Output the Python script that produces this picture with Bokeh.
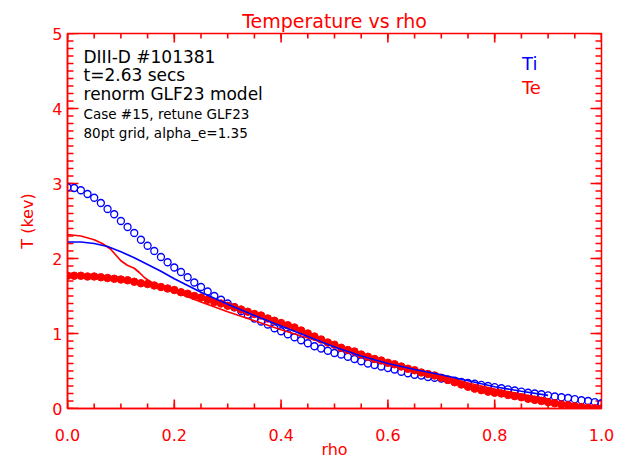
from bokeh.plotting import figure
from bokeh.models import FixedTicker, PrintfTickFormatter, Range1d, Label
from bokeh.embed import file_html
from bokeh.resources import INLINE

RED = "#ff0000"
BLUE = "#0000ff"
FONT = "DejaVu Sans"

# ---------------- data ----------------
# measured profiles on an 81-point rho grid
rho_grid = [i / 80 for i in range(81)]

ti_meas = [2.95, 2.94, 2.91, 2.86, 2.81, 2.74, 2.66, 2.59, 2.50, 2.42,
           2.34, 2.25, 2.17, 2.10, 2.02, 1.95, 1.88, 1.82, 1.75, 1.68,
           1.62, 1.56, 1.50, 1.45, 1.40, 1.35, 1.30, 1.25, 1.20, 1.16,
           1.12, 1.07, 1.03, 0.99, 0.95, 0.91, 0.87, 0.83, 0.80, 0.77,
           0.74, 0.72, 0.69, 0.66, 0.63, 0.60, 0.58, 0.56, 0.54, 0.52,
           0.49, 0.47, 0.45, 0.44, 0.42, 0.41, 0.40, 0.385, 0.37, 0.355,
           0.34, 0.33, 0.315, 0.30, 0.285, 0.27, 0.255, 0.24, 0.225, 0.21,
           0.20, 0.19, 0.175, 0.16, 0.15, 0.14, 0.125, 0.11, 0.10, 0.085,
           0.07]

te_meas = [1.77, 1.77, 1.77, 1.76, 1.76, 1.75, 1.74, 1.73, 1.72, 1.71,
           1.69, 1.67, 1.66, 1.64, 1.62, 1.60, 1.58, 1.55, 1.53, 1.50,
           1.48, 1.45, 1.42, 1.40, 1.37, 1.35, 1.32, 1.29, 1.26, 1.24,
           1.20, 1.17, 1.14, 1.11, 1.08, 1.04, 1.00, 0.96, 0.92, 0.88,
           0.85, 0.81, 0.78, 0.76, 0.72, 0.69, 0.66, 0.64, 0.61, 0.59,
           0.56, 0.53, 0.51, 0.48, 0.46, 0.44, 0.41, 0.38, 0.35, 0.32,
           0.29, 0.265, 0.245, 0.225, 0.21, 0.20, 0.18, 0.165, 0.15, 0.13,
           0.115, 0.10, 0.085, 0.07, 0.055, 0.045, 0.03, 0.02, 0.01, 0.005,
           0.0]

# GLF23 model profiles
rho_ti_model = [0.0, 0.025, 0.05, 0.075, 0.1, 0.125, 0.15, 0.175, 0.2, 0.25,
                0.3, 0.35, 0.4, 0.45, 0.5, 0.55, 0.6, 0.65, 0.7, 0.75,
                0.8, 0.85, 0.9]
ti_model = [2.22, 2.22, 2.20, 2.16, 2.09, 2.01, 1.92, 1.83, 1.73, 1.55,
            1.39, 1.24, 1.10, 0.96, 0.82, 0.70, 0.60, 0.52, 0.45, 0.37,
            0.29, 0.23, 0.175]

rho_te_model = [0.0, 0.025, 0.05, 0.065, 0.08, 0.09, 0.1, 0.112, 0.125, 0.135,
                0.145, 0.16, 0.175, 0.2, 0.25, 0.3, 0.35, 0.4, 0.45, 0.5,
                0.55, 0.6, 0.65, 0.7, 0.75, 0.8, 0.85, 0.9]
te_model = [2.32, 2.30, 2.25, 2.20, 2.13, 2.05, 1.97, 1.91, 1.87, 1.81,
            1.74, 1.67, 1.62, 1.56, 1.42, 1.29, 1.17, 1.05, 0.94, 0.83,
            0.73, 0.62, 0.53, 0.43, 0.34, 0.26, 0.19, 0.13]

x_major = [0.0, 0.2, 0.4, 0.6, 0.8, 1.0]
x_minor = [i * 0.05 for i in range(21)]
y_major = [0, 1, 2, 3, 4, 5]
y_minor = [i * 0.1 for i in range(51)]

info_lines = ["DIII-D #101381", "t=2.63 secs", "renorm GLF23 model",
              "Case #15, retune GLF23", "80pt grid, alpha_e=1.35"]

X0, X1 = 0.0, 1.0
Y0, Y1 = 0.0, 5.0
W, H = 616, 462
BL, BR, BT, BB = 67, 15, 33, 54
FRAME_W = W - BL - BR
FRAME_H = H - BT - BB

# ---------------- figure ----------------
p = figure(width=W, height=H, x_range=Range1d(X0, X1), y_range=Range1d(Y0, Y1),
           output_backend="svg", toolbar_location=None,
           min_border_left=BL, min_border_right=BR, min_border_top=BT,
           min_border_bottom=BB)
p.background_fill_color = "white"
p.border_fill_color = "white"
p.grid.visible = False
p.outline_line_color = RED
p.outline_line_width = 1.5

p.title.text = "Temperature vs rho"
p.title.align = "center"
p.title.text_color = RED
p.title.text_font = FONT
p.title.text_font_size = "19px"
p.title.text_font_style = "normal"
p.title.standoff = 4
p.title.offset = 0


def style_axis(ax, ticker):
    ax.ticker = ticker
    ax.axis_line_color = RED
    ax.axis_line_width = 1.5
    ax.major_tick_in = 0
    ax.major_tick_out = 0
    ax.minor_tick_in = 0
    ax.minor_tick_out = 0
    ax.major_label_text_color = RED
    ax.major_label_text_font = FONT
    ax.major_label_text_font_size = "16px"
    ax.axis_label_text_color = RED
    ax.axis_label_text_font = FONT
    ax.axis_label_text_font_size = "16px"
    ax.axis_label_text_font_style = "normal"


xa = p.xaxis[0]
style_axis(xa, FixedTicker(ticks=x_major, minor_ticks=x_minor))
xa.formatter = PrintfTickFormatter(format="%.1f")
xa.axis_label = "rho"
xa.major_label_standoff = 20
xa.axis_label_standoff = -4

ya = p.yaxis[0]
style_axis(ya, FixedTicker(ticks=y_major, minor_ticks=y_minor))
ya.formatter = PrintfTickFormatter(format="%d")
ya.axis_label = "T (kev)"
ya.major_label_standoff = 5
ya.axis_label_standoff = 12
ya.major_label_orientation = "horizontal"

# inward (IDL-style) tick marks on all four sides; pixel lengths -> data units
dx = (X1 - X0) / FRAME_W
dy = (Y1 - Y0) / FRAME_H
seg_kw = dict(line_color=RED, line_width=1.6)
for xs, ln in ((x_minor, 5), (x_major, 9)):
    p.segment(x0=xs, y0=[Y0] * len(xs), x1=xs, y1=[Y0 + ln * dy] * len(xs), **seg_kw)
    p.segment(x0=xs, y0=[Y1] * len(xs), x1=xs, y1=[Y1 - ln * dy] * len(xs), **seg_kw)
for ys, ln in ((y_minor, 6), (y_major, 11)):
    p.segment(x0=[X0] * len(ys), y0=ys, x1=[X0 + ln * dx] * len(ys), y1=ys, **seg_kw)
    p.segment(x0=[X1] * len(ys), y0=ys, x1=[X1 - ln * dx] * len(ys), y1=ys, **seg_kw)

# ---------------- glyphs ----------------
p.scatter(rho_grid, ti_meas, marker="circle", size=7, fill_color=None,
          line_color=BLUE, line_width=1.3)
p.scatter(rho_grid, te_meas, marker="circle", size=7.5, fill_color=RED,
          line_color=RED, line_width=1)
p.line(rho_te_model, te_model, line_color=RED, line_width=1.7)
p.line(rho_ti_model, ti_model, line_color=BLUE, line_width=1.7)

# ---------------- annotations ----------------
info_y = [4.693, 4.453, 4.200, 3.933, 3.680]
info_size = ["17px", "17px", "17px", "13.5px", "13.5px"]
for txt, yy, sz in zip(info_lines, info_y, info_size):
    p.add_layout(Label(x=0.030, y=yy, text=txt, text_color="black",
                       text_font=FONT, text_font_size=sz,
                       text_baseline="alphabetic", text_align="left"))

p.add_layout(Label(x=0.851, y=4.596, text="Ti", text_color=BLUE, text_font=FONT,
                   text_font_size="18px", text_baseline="alphabetic"))
p.add_layout(Label(x=0.851, y=4.284, text="Te", text_color=RED, text_font=FONT,
                   text_font_size="18px", text_baseline="alphabetic"))

open("out.html", "w").write(file_html(p, INLINE))
